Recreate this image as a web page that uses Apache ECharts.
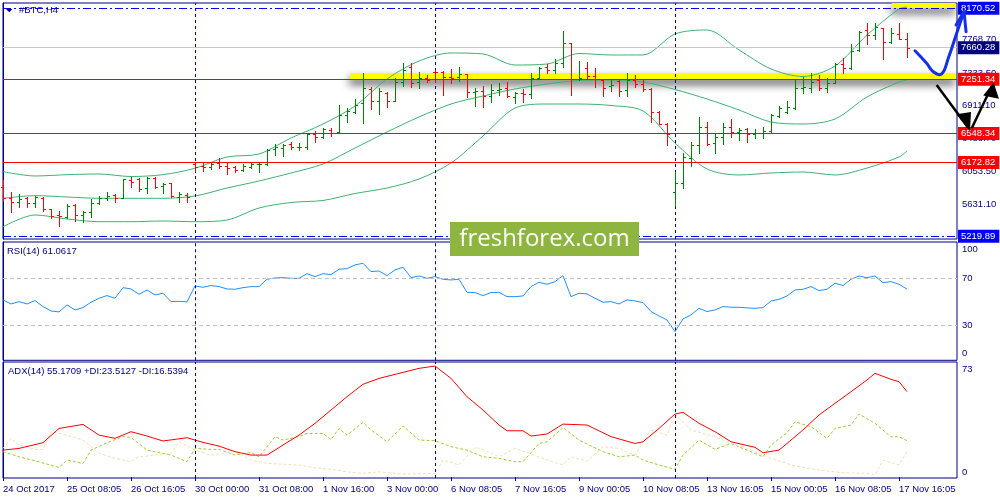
<!DOCTYPE html>
<html><head><meta charset="utf-8">
<script src="https://cdn.jsdelivr.net/npm/echarts@6/dist/echarts.min.js"></script>
<style>html,body{margin:0;padding:0;background:#fff}#c{width:1000px;height:500px}</style>
</head><body><div id="c"></div>
<script>
// ---------- DATA ----------
const tickIndex = [0, 8, 16, 24, 32, 40, 48, 56, 64, 72, 80, 88, 96, 104, 112];
const tickLabels = ['24 Oct 2017', '25 Oct 08:05', '26 Oct 16:05', '30 Oct 00:00', '31 Oct 08:00', '1 Nov 16:00', '3 Nov 00:00', '6 Nov 08:05', '7 Nov 16:05', '9 Nov 00:05', '10 Nov 08:05', '13 Nov 16:05', '15 Nov 00:05', '16 Nov 08:05', '17 Nov 16:05'];

const open = [
  5856, 5718, 5658, 5710, 5653, 5718, 5568, 5494, 5472, 5623,
  5494, 5533, 5645, 5718, 5753, 5710, 5947, 5956, 5840, 5969,
  5873, 5904, 5731, 5753, 6154, 6132, 6111, 6163, 6132, 6111,
  6076, 6119, 6150, 6154, 6345, 6358, 6413, 6371, 6371, 6539,
  6500, 6595, 6569, 6789, 6831, 6940, 7130, 6974, 7070, 6974,
  7212, 7414, 7220, 7264, 7350, 7342, 7285, 7277, 7320, 7091,
  7103, 7035, 7112, 7135, 7026, 7078, 7061, 7264, 7414, 7372,
  7458, 7717, 7251, 7401, 7300, 7242, 7164, 7233, 7112, 7242,
  7190, 7122, 6832, 6672, 5796, 5904, 6228, 6400, 6637, 6422,
  6508, 6629, 6572, 6607, 6539, 6552, 6582, 6780, 6824, 6876,
  7142, 7135, 7242, 7135, 7207, 7449, 7394, 7630, 7890, 7825,
  7911, 7734, 7842, 7769];
const high = [
  5943, 5788, 5766, 5731, 5744, 5723, 5572, 5549, 5636, 5636,
  5549, 5697, 5740, 5788, 5766, 5960, 5982, 5969, 5982, 5982,
  5904, 5912, 5788, 5775, 6171, 6163, 6171, 6228, 6163, 6132,
  6154, 6171, 6171, 6345, 6413, 6413, 6443, 6430, 6552, 6582,
  6617, 6617, 6918, 6879, 6992, 7329, 7150, 7135, 7091, 7264,
  7458, 7458, 7350, 7307, 7372, 7362, 7381, 7406, 7325, 7135,
  7164, 7190, 7207, 7220, 7091, 7122, 7329, 7414, 7449, 7510,
  7877, 7722, 7488, 7471, 7394, 7251, 7242, 7242, 7337, 7307,
  7242, 7135, 6844, 6680, 6055, 6293, 6435, 6767, 6694, 6560,
  6689, 6737, 6617, 6617, 6604, 6630, 6798, 6905, 6970, 7251,
  7285, 7337, 7307, 7264, 7458, 7531, 7708, 7877, 7976, 7976,
  7919, 7911, 7984, 7847];
const low = [
  5688, 5529, 5601, 5593, 5593, 5546, 5451, 5355, 5451, 5420,
  5407, 5472, 5636, 5688, 5666, 5710, 5860, 5808, 5775, 5847,
  5775, 5723, 5666, 5666, 6067, 6067, 6089, 6098, 6021, 6054,
  6067, 6106, 6054, 6141, 6271, 6258, 6345, 6336, 6345, 6443,
  6487, 6517, 6560, 6702, 6819, 6681, 6863, 6798, 6897, 6970,
  7168, 7155, 7135, 7212, 7220, 7048, 7207, 7233, 7018, 6905,
  6897, 6961, 7048, 7020, 6940, 6961, 7013, 7251, 7329, 7329,
  7414, 7048, 7242, 7251, 7155, 7039, 7103, 7039, 7039, 7155,
  7100, 6694, 6670, 6400, 5614, 5840, 6128, 6300, 6400, 6293,
  6413, 6508, 6465, 6443, 6487, 6487, 6552, 6759, 6811, 6863,
  7070, 7083, 7112, 7091, 7199, 7337, 7381, 7621, 7704, 7773,
  7510, 7717, 7769, 7544];
const close = [
  5714, 5658, 5701, 5653, 5731, 5568, 5481, 5481, 5614, 5494,
  5529, 5653, 5718, 5744, 5710, 5956, 5925, 5826, 5969, 5860,
  5895, 5740, 5762, 5731, 6119, 6111, 6154, 6132, 6098, 6077,
  6132, 6154, 6154, 6336, 6378, 6400, 6371, 6378, 6539, 6500,
  6604, 6560, 6789, 6841, 6918, 7140, 6974, 7103, 6974, 7212,
  7372, 7207, 7264, 7242, 7342, 7277, 7272, 7320, 7091, 7100,
  7035, 7112, 7125, 7030, 7078, 7061, 7264, 7401, 7372, 7458,
  7717, 7251, 7264, 7300, 7251, 7135, 7177, 7103, 7242, 7190,
  7122, 6832, 6675, 6543, 5904, 6249, 6400, 6637, 6413, 6500,
  6637, 6572, 6595, 6543, 6552, 6582, 6789, 6875, 6888, 7142,
  7150, 7220, 7135, 7199, 7449, 7401, 7621, 7860, 7825, 7922,
  7734, 7847, 7773, 7660.28];

// Bollinger bands (20) sampled at these bar indices
const bbIndex = [0, 4, 8, 12, 16, 20, 24, 28, 32, 36, 40, 44, 48, 52, 56, 60, 64, 68, 72, 76, 80, 84, 88, 92, 96, 100, 104, 108, 112, 113];
const bbUpper = [6055, 5999, 6016, 6025, 5992, 6016, 6099, 6245, 6284, 6491, 6672, 6905, 7255, 7488, 7592, 7579, 7436, 7449, 7585, 7566, 7566, 7838, 7890, 7631, 7385, 7287, 7423, 7825, 8162, 8187];
const bbMiddle = [5710, 5744, 5727, 5710, 5710, 5710, 5740, 5843, 5934, 6038, 6154, 6361, 6569, 6763, 6931, 7035, 7126, 7190, 7236, 7242, 7216, 7119, 6996, 6854, 6698, 6672, 6737, 7022, 7216, 7242];
const bbLower = [5342, 5494, 5442, 5407, 5407, 5416, 5407, 5429, 5584, 5656, 5682, 5772, 5843, 5960, 6167, 6517, 6879, 6931, 6931, 6912, 6841, 6426, 6090, 6012, 6038, 6051, 6012, 6102, 6245, 6323];

// RSI(14), one value per bar
const rsi = [
  51.8, 48.3, 50.3, 48.3, 51.2, 46.1, 42.3, 41.5, 47.5, 43.2,
  45.2, 49.8, 53.2, 55.5, 53.2, 62.3, 61.2, 56.6, 60.3, 56.1,
  57.5, 50.3, 50.6, 50.1, 63.8, 62.6, 64.1, 63.2, 61.2, 60.9,
  62.3, 63.2, 63.2, 69.5, 70.6, 70.9, 70.3, 70.3, 74.3, 71.8,
  74.3, 73.5, 78.1, 78.6, 81.8, 83.2, 76.1, 76.6, 72.6, 77.5,
  79.8, 70.9, 72.3, 70.3, 71.8, 69.5, 68.9, 69.5, 58.3, 58.1,
  55.5, 58.1, 58.3, 54.6, 54.6, 55.2, 63.2, 66.9, 65.2, 67.5,
  72.6, 54.6, 57.5, 56.9, 53.2, 49.8, 50.3, 48.3, 51.8, 50.9,
  49.5, 41.8, 38.0, 34.6, 24.6, 35.5, 38.9, 44.6, 41.8, 43.2,
  46.1, 45.5, 45.5, 44.9, 44.6, 45.2, 50.9, 52.3, 55.2, 60.3,
  60.9, 63.2, 59.8, 60.9, 66.1, 64.1, 69.5, 72.3, 70.9, 72.3,
  66.6, 67.5, 65.2, 61.06];

// ADX(14) with +DI / -DI as [bar index, value]
const adx = [[0,17.4],[2,18.5],[5,22.2],[7,31.4],[10,34.0],[12,27.1],[14,25.0],[16,29.3],[18,26.5],[20,23.3],[23,25.4],[25,22.4],[27,20.0],[29,16.4],[31,14.2],[33,14.2],[35,20.7],[37,27.1],[39,34.7],[41,43.3],[43,51.9],[45,59.9],[47,63.7],[50,67.6],[52,70.2],[54,71.7],[56,63.7],[58,51.9],[60,43.3],[62,33.6],[63,29.9],[65,29.9],[66,26.5],[68,27.8],[70,34.2],[73,33.6],[76,26.1],[79,21.7],[80,22.8],[82,31.4],[84,40.7],[85,41.8],[87,34.7],[89,29.3],[91,22.8],[94,19.2],[95,15.7],[97,17.4],[100,30.4],[102,40.1],[104,47.6],[106,55.1],[108,62.7],[109,67.0],[111,63.1],[112,61.6],[113,55.17]];
const plusDI = [[0,16.4],[2,13.1],[4,10.5],[7,6.2],[8,11.0],[10,8.8],[11,17.4],[13,22.2],[15,26.1],[16,25.6],[18,17.4],[21,14.2],[23,9.9],[24,18.5],[26,17.9],[27,17.9],[29,14.2],[31,15.9],[32,13.1],[34,26.1],[35,23.9],[37,26.1],[38,28.2],[40,28.2],[41,24.3],[42,31.4],[43,27.1],[45,35.3],[46,30.4],[48,22.8],[50,33.0],[52,23.9],[54,23.5],[56,19.6],[58,17.4],[60,13.1],[62,12.1],[64,9.9],[65,9.9],[67,21.7],[68,22.8],[70,31.9],[72,23.9],[75,16.4],[77,13.1],[79,14.2],[80,11.0],[82,7.8],[84,5.0],[85,14.2],[87,23.9],[89,17.9],[91,21.7],[95,13.1],[96,20.7],[98,28.6],[99,35.7],[101,32.5],[103,25.0],[104,31.4],[106,33.6],[107,40.7],[109,34.7],[111,26.0],[112,26.0],[113,23.51]];
const minusDI = [[0,18.5],[1,25.0],[2,20.7],[4,17.9],[5,17.9],[6,29.3],[8,27.1],[10,23.9],[12,15.3],[14,12.1],[16,9.9],[17,13.1],[19,14.2],[21,15.3],[22,22.8],[24,17.4],[26,14.2],[29,16.4],[31,11.0],[33,8.8],[37,7.8],[39,6.0],[41,5.0],[43,3.4],[45,2.4],[47,3.4],[50,1.9],[54,2.4],[55,11.0],[57,7.8],[59,19.2],[60,17.9],[62,13.1],[64,18.5],[66,14.9],[68,11.0],[70,7.8],[71,13.1],[73,10.3],[75,19.6],[77,18.5],[79,14.2],[81,30.4],[83,27.1],[84,40.7],[86,30.4],[89,26.1],[91,21.7],[93,18.5],[95,14.2],[96,12.1],[99,7.1],[102,4.5],[105,2.8],[108,2.4],[109,1.3],[110,11.0],[112,7.8],[113,16.54]];

// price axis tick labels and horizontal levels
const priceTicks = [7768.70, 7333.50, 6911.10, 6488.70, 6053.50, 5631.10];
const redLevels = [7251.34, 6548.34, 6172.82];
const blueLevels = [8170.52, 5219.89];
const bidLevel = 7660.28;
const separatorBars = [24, 54, 84];
const rsiLevels = [70, 30];
const rsiTicks = [100, 70, 30, 0];
const adxTicks = [73, 0];

// drawn annotations, in [bar index, price]
const zoneMain = [[43.4, 7330], [119.1, 7251]];
const zoneTop = [[111.1, 8256], [119.1, 8171]];
const blueCurve = [[114, 7621], [115.46, 7458], [116.29, 7349], [117.34, 7320], [118.16, 7523], [119.21, 7847], [119.84, 8041], [120.13, 8126]];
const blueHead = [[119.13, 7954], [120.13, 8126], [120.38, 7868]];
const blackLine1 = [[116.71, 7177], [120.6, 6630]];
const blackHead1 = [[119.35, 6790], [120.79, 6604], [120.9, 6815]];
const blackLine2 = [[121.09, 6617], [123.6, 7160]];
const blackHead2 = [[122.7, 7048], [123.79, 7190], [124.35, 7012]];

// ---------- CHART ----------
const NAVY = '#000080';
const FONT = 'Liberation Sans';
const XMAX = 119.25;
const chart = echarts.init(document.getElementById('c'), null, { width: 1000, height: 500 });

const grids = [
  { left: 3, top: 3, width: 954, height: 236 },
  { left: 3, top: 242, width: 954, height: 118.3 },
  { left: 3, top: 362, width: 954, height: 116 }
].map(g => Object.assign(g, { show: true, borderColor: NAVY, borderWidth: 1, backgroundColor: 'transparent' }));

function xAx(i, showLabels) {
  return {
    type: 'value', gridIndex: i, min: 0, max: XMAX,
    axisLine: { show: false }, splitLine: { show: false },
    axisTick: showLabels ? { show: true, customValues: tickIndex, length: 4, lineStyle: { color: NAVY } } : { show: false },
    axisLabel: showLabels ? {
      show: true, customValues: tickIndex, align: 'left', margin: 6,
      fontFamily: FONT, fontSize: 9.5, color: NAVY,
      formatter: v => tickLabels[tickIndex.indexOf(v)]
    } : { show: false }
  };
}
const lblBase = { fontFamily: FONT, fontSize: 9.5, color: NAVY };
function yAx(i, min, max, extra) {
  return Object.assign({
    type: 'value', gridIndex: i, min: min, max: max, position: 'right',
    axisLine: { show: true, lineStyle: { color: NAVY } },
    splitLine: { show: false }, axisTick: { show: false }
  }, extra);
}

function hLine(v, color, type, bg) {
  return {
    yAxis: v,
    lineStyle: { color: color, type: type, width: 1 },
    label: {
      show: true, position: 'end', distance: 1, formatter: p => Number(p.value).toFixed(2),
      backgroundColor: bg, color: '#fff', padding: [2, 4, 1, 3], fontFamily: FONT, fontSize: 9.5
    }
  };
}
const vLines = separatorBars.map(b => ({ xAxis: b, lineStyle: { color: NAVY, type: [3, 3], width: 1 }, label: { show: false } }));

const ohlcData = open.map((o, i) => [i, o, high[i], low[i], close[i]]);

function pts(api, arr) { return arr.map(p => api.coord(p)); }

const option = {
  animation: false,
  grid: grids,
  xAxis: [xAx(0, false), xAx(1, false), xAx(2, true)],
  yAxis: [
    yAx(0, 5182.95, 8239.15, {
      axisLabel: { customValues: priceTicks, margin: 5, formatter: v => v.toFixed(2), ...lblBase }
    }),
    yAx(1, 0, 101.46, {
      axisLabel: {
        customValues: rsiTicks, margin: 5, ...lblBase,
        formatter: v => v === 100 ? '{t|100}' : (v === 0 ? '{b|0}' : '{m|' + v + '}'),
        rich: {
          t: { ...lblBase, padding: [11, 0, 0, 0] },
          b: { ...lblBase, padding: [0, 0, 13, 0] },
          m: { ...lblBase }
        }
      }
    }),
    yAx(2, -0.6, 74.3, {
      axisLabel: {
        customValues: adxTicks, margin: 5, ...lblBase,
        formatter: v => v === 73 ? '{t|73}' : '{b|0}',
        rich: {
          t: { ...lblBase, padding: [11, 0, 0, 0] },
          b: { ...lblBase, padding: [0, 0, 9, 0] }
        }
      }
    })
  ],
  graphic: [
    { type: 'polygon', shape: { points: [[6, 9], [12.5, 9], [9.25, 12.2]] }, style: { fill: NAVY }, z: 20 },
    { type: 'text', x: 19, y: 10.5, style: { text: '#BTC,H4', fill: NAVY, font: '9.5px "Liberation Sans"', verticalAlign: 'middle' }, z: 20 },
    { type: 'text', x: 7, y: 251.5, style: { text: 'RSI(14) 61.0617', fill: NAVY, font: '9.5px "Liberation Sans"', verticalAlign: 'middle' }, z: 20 },
    { type: 'text', x: 8, y: 371.5, style: { text: 'ADX(14) 55.1709 +DI:23.5127 -DI:16.5394', fill: NAVY, font: '9.5px "Liberation Sans"', verticalAlign: 'middle' }, z: 20 },
    { type: 'rect', shape: { x: 450, y: 222, width: 189, height: 34 }, style: { fill: '#8DB540' }, z: 30 },
    { type: 'text', x: 544.5, y: 239.5, style: { text: 'freshforex.com', fill: '#fff', font: '24px "Open Sans"', align: 'center', verticalAlign: 'middle' }, z: 31 }
  ],
  series: [
    {
      name: 'BB upper', type: 'line', xAxisIndex: 0, yAxisIndex: 0, z: 2,
      data: bbIndex.map((k, i) => [k, bbUpper[i]]), showSymbol: false, smooth: 0.3,
      lineStyle: { color: '#3CB371', width: 1 },
      markArea: {
        silent: true,
        itemStyle: { color: '#FFFF00', shadowBlur: 8, shadowColor: 'rgba(0,0,0,0.75)', shadowOffsetY: 5, shadowOffsetX: -1 },
        data: [
          [{ xAxis: zoneMain[0][0], yAxis: zoneMain[0][1] }, { xAxis: zoneMain[1][0], yAxis: zoneMain[1][1] }],
          [{ xAxis: zoneTop[0][0], yAxis: zoneTop[0][1] }, { xAxis: zoneTop[1][0], yAxis: zoneTop[1][1] }]
        ]
      }
    },
    { name: 'BB middle', type: 'line', xAxisIndex: 0, yAxisIndex: 0, z: 3, data: bbIndex.map((k, i) => [k, bbMiddle[i]]), showSymbol: false, smooth: 0.3, lineStyle: { color: '#3CB371', width: 1 } },
    { name: 'BB lower', type: 'line', xAxisIndex: 0, yAxisIndex: 0, z: 3, data: bbIndex.map((k, i) => [k, bbLower[i]]), showSymbol: false, smooth: 0.3, lineStyle: { color: '#3CB371', width: 1 } },
    {
      name: 'BTC', type: 'custom', xAxisIndex: 0, yAxisIndex: 0, z: 5,
      data: ohlcData, encode: { x: 0, y: [1, 2, 3, 4] },
      renderItem: (params, api) => {
        const k = api.value(0), o = api.value(1), h = api.value(2), l = api.value(3), c = api.value(4);
        const po = api.coord([k, o]), ph = api.coord([k, h]), pl = api.coord([k, l]), pc = api.coord([k, c]);
        const x = Math.round(po[0]);
        const col = c >= o ? '#008000' : '#FF0000';
        const yh = Math.round(ph[1]), yl = Math.round(pl[1]);
        return {
          type: 'group', children: [
            { type: 'rect', shape: { x: x, y: yh, width: 1, height: Math.max(1, yl - yh + 1) }, style: { fill: col } },
            { type: 'rect', shape: { x: x - 2, y: Math.round(po[1]), width: 2, height: 1 }, style: { fill: col } },
            { type: 'rect', shape: { x: x + 1, y: Math.round(pc[1]), width: 2, height: 1 }, style: { fill: col } }
          ]
        };
      },
      markLine: {
        silent: true, symbol: ['none', 'none'],
        data: [
          hLine(blueLevels[0], '#0000FF', [8, 3, 2, 3], '#0000FF'),
          hLine(bidLevel, '#C8C8C8', 'solid', '#000080'),
          hLine(redLevels[0], '#FF0000', 'solid', '#FF0000'),
          hLine(redLevels[1], '#FF0000', 'solid', '#FF0000'),
          hLine(redLevels[2], '#FF0000', 'solid', '#FF0000'),
          hLine(blueLevels[1], '#0000FF', [8, 3, 2, 3], '#0000FF')
        ].concat(vLines)
      }
    },
    {
      name: 'arrows', type: 'custom', xAxisIndex: 0, yAxisIndex: 0, z: 12, clip: false,
      data: [[0, 0]],
      renderItem: (params, api) => ({
        type: 'group', children: [
          { type: 'polyline', shape: { points: pts(api, blueCurve), smooth: 0.4 }, style: { stroke: '#1430E6', lineWidth: 3, fill: null, lineCap: 'round', lineJoin: 'round' } },
          { type: 'polyline', shape: { points: pts(api, blueHead) }, style: { stroke: '#1430E6', lineWidth: 3, fill: null, lineCap: 'round', lineJoin: 'round' } },
          { type: 'polyline', shape: { points: pts(api, blackLine1) }, style: { stroke: '#000', lineWidth: 2.5, fill: null } },
          { type: 'polygon', shape: { points: pts(api, blackHead1) }, style: { fill: '#000', stroke: '#000', lineWidth: 1.5 } },
          { type: 'polyline', shape: { points: pts(api, blackLine2) }, style: { stroke: '#000', lineWidth: 2.5, fill: null } },
          { type: 'polygon', shape: { points: pts(api, blackHead2) }, style: { fill: '#000', stroke: '#000', lineWidth: 1.5 } }
        ]
      })
    },
    {
      name: 'RSI', type: 'line', xAxisIndex: 1, yAxisIndex: 1, z: 3,
      data: rsi.map((v, i) => [i, v]), showSymbol: false,
      lineStyle: { color: '#1E90FF', width: 1 },
      markLine: {
        silent: true, symbol: ['none', 'none'],
        data: rsiLevels.map(v => ({ yAxis: v, lineStyle: { color: '#C0C0C0', type: [4, 3], width: 1 }, label: { show: false } })).concat(vLines)
      }
    },
    {
      name: 'ADX', type: 'line', xAxisIndex: 2, yAxisIndex: 2, z: 4,
      data: adx, showSymbol: false, lineStyle: { color: '#FF0000', width: 1 },
      markLine: { silent: true, symbol: ['none', 'none'], data: vLines }
    },
    { name: '+DI', type: 'line', xAxisIndex: 2, yAxisIndex: 2, z: 3, data: plusDI, showSymbol: false, lineStyle: { color: '#9ACD32', width: 1, type: [3, 2] } },
    { name: '-DI', type: 'line', xAxisIndex: 2, yAxisIndex: 2, z: 3, data: minusDI, showSymbol: false, lineStyle: { color: '#F5DEB3', width: 1, type: [3, 2] } }
  ]
};
chart.setOption(option);
</script>
</body></html>
